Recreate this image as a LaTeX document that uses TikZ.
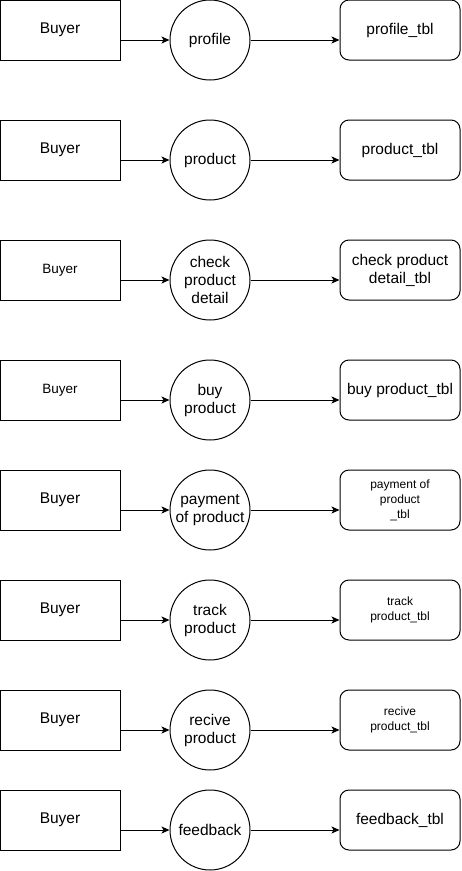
\documentclass[tikz,border=0pt]{standalone}
\usepackage{fontspec}
\setmainfont{Liberation Sans}
\usetikzlibrary{arrows.meta}
\begin{document}
\begin{tikzpicture}[x=1pt,y=-1pt,
  big/.style={font=\fontsize{15.5}{18}\selectfont},
  mid/.style={font=\fontsize{13.5}{16}\selectfont},
  small/.style={font=\fontsize{12}{15}\selectfont},
  actor/.style={draw,line width=1pt,rectangle,minimum width=120pt,minimum height=60pt,inner sep=0pt,align=center},
  proc/.style={draw,line width=1pt,circle,minimum size=80pt,inner sep=0pt,align=center,big},
  store/.style={draw,line width=1pt,rectangle,rounded corners=9pt,minimum width=120pt,minimum height=60pt,inner sep=0pt,align=center},
  flow/.style={line width=1pt,-{Stealth[length=8pt,width=7pt,inset=2pt]}}]
\useasboundingbox (0,0) rectangle (461,871);
% row 1
\node[actor,big] (b1) at (60,30) {Buyer};
\node[proc] (c1) at (210,40) {profile};
\node[store,big] (t1) at (400,30) {profile\_tbl};
% row 2
\node[actor,big] (b2) at (60,150) {Buyer};
\node[proc] (c2) at (210,160) {product};
\node[store,big] (t2) at (400,150) {product\_tbl};
% row 3
\node[actor,mid] (b3) at (60,270) {Buyer};
\node[proc] (c3) at (210,280) {check\\product\\detail};
\node[store,big] (t3) at (400,270) {check product\\detail\_tbl};
% row 4
\node[actor,mid] (b4) at (60,390) {Buyer};
\node[proc] (c4) at (210,400) {buy\\product};
\node[store,big] (t4) at (400,390) {buy product\_tbl};
% row 5
\node[actor,big] (b5) at (60,500) {Buyer};
\node[proc] (c5) at (210,510) {payment\\of product};
\node[store,small] (t5) at (400,500) {payment of\\product\\\_tbl};
% row 6
\node[actor,big] (b6) at (60,610) {Buyer};
\node[proc] (c6) at (210,620) {track\\product};
\node[store,small] (t6) at (400,610) {track\\product\_tbl};
% row 7
\node[actor,big] (b7) at (60,720) {Buyer};
\node[proc] (c7) at (210,730) {recive\\product};
\node[store,small] (t7) at (400,720) {recive\\product\_tbl};
% row 8
\node[actor,big] (b8) at (60,820) {Buyer};
\node[proc] (c8) at (210,830) {feedback};
\node[store,big] (t8) at (400,820) {feedback\_tbl};
% connectors
\foreach \i in {1,...,8}{
  \draw[flow] (b\i.east |- c\i.west) -- (c\i.west);
  \draw[flow] (c\i.east) -- (t\i.west |- c\i.east);
}
\end{tikzpicture}
\end{document}
